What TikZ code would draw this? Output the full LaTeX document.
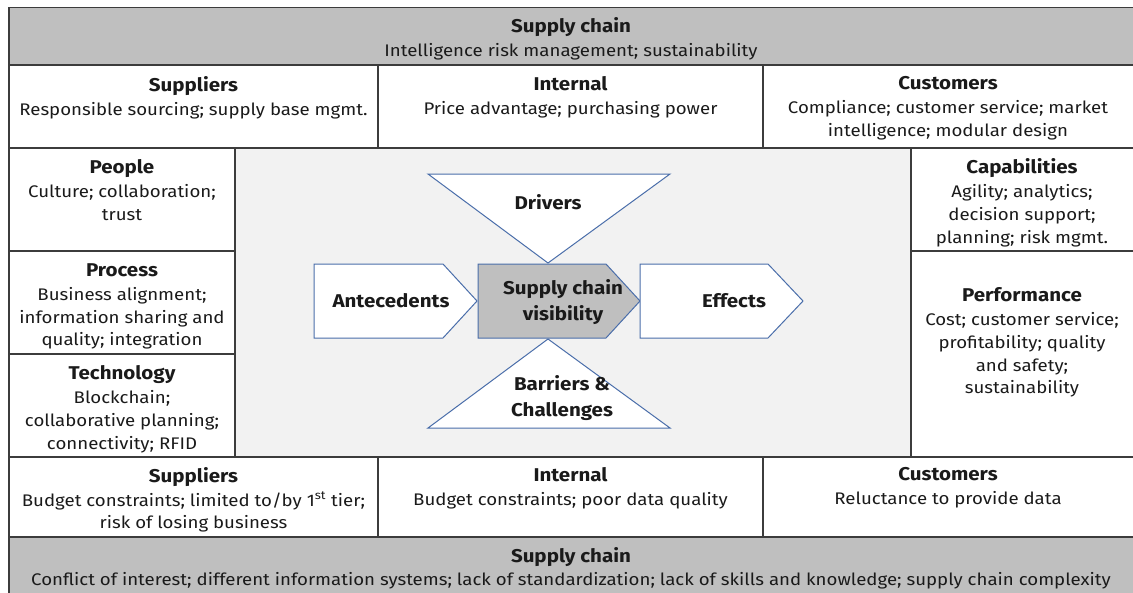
\documentclass[tikz,border=0pt]{standalone}
\usepackage{fontspec}
\setmainfont[FakeStretch=1.11]{Fira Sans}
\definecolor{frame}{HTML}{3C3C3C}
\definecolor{band}{HTML}{BFBFBF}
\definecolor{core}{HTML}{F2F2F2}
\definecolor{edge}{HTML}{4A6EAA}
\definecolor{ink}{HTML}{1A1A1A}
\newcommand\cellhead[1]{{\bfseries\fontsize{18.5}{24}\selectfont #1}}
\begin{document}
\begin{tikzpicture}[x=1pt,y=-1pt,
  grid/.style={draw=frame,line width=1.2pt},
  cell/.style={align=center,inner sep=0pt,anchor=north,text=ink,
    font=\fontsize{16.8}{22.8}\selectfont},
  shapebox/.style={draw=edge,line width=1pt,fill=white,line join=miter},
  mid/.style={align=center,inner sep=0pt,text=ink,
    font=\bfseries\fontsize{18.5}{25.5}\selectfont}]
\useasboundingbox (0,0) rectangle (1133,592);

% backgrounds
\fill[band] (9,7.5) rectangle (1140,65);
\fill[band] (9,537) rectangle (1140,600);
\fill[core] (235,148) rectangle (911,457);

% grid lines
\draw[grid] (1140,7.5) -- (9,7.5) -- (9,600);
\foreach \yy in {65,148,457,537} \draw[grid] (9,\yy) -- (1140,\yy);
\foreach \xx in {378,763} {
  \draw[grid] (\xx,65) -- (\xx,148);
  \draw[grid] (\xx,457) -- (\xx,537);
}
\draw[grid] (235,148) -- (235,457);
\draw[grid] (911,148) -- (911,457);
\draw[grid] (9,251) -- (235,251);
\draw[grid] (9,354) -- (235,354);
\draw[grid] (911,251) -- (1140,251);

% central shapes
\draw[shapebox] (428,174) -- (670,174) -- (548,263) -- cycle;
\draw[shapebox] (548,339) -- (670,428) -- (428,428) -- cycle;
\draw[shapebox] (314,264) -- (443,264) -- (477,301) -- (443,338) -- (314,338) -- cycle;
\draw[shapebox,fill=band] (478,264) -- (606,264) -- (640,301) -- (606,338) -- (478,338) -- cycle;
\draw[shapebox] (640,264) -- (768,264) -- (803,301) -- (768,338) -- (640,338) -- cycle;

\node[mid] (drivers) at (548,202) {Drivers};
\node[mid] (antecedents) at (391,301) {Antecedents};
\node[mid] (scv) at (563,302) {Supply chain\\visibility};
\node[mid] (effects) at (734,301) {Effects};
\node[mid] (barriers) at (562,398) {Barriers \&\\Challenges};

% cell texts
\node[cell] (topband) at (571,17) {\cellhead{Supply chain}\\[1.5pt]Intelligence risk management; sustainability};
\node[cell] (tsup) at (193.5,76) {\cellhead{Suppliers}\\[1.5pt]Responsible sourcing; supply base mgmt.};
\node[cell] (tint) at (570.5,76) {\cellhead{Internal}\\[1.5pt]Price advantage; purchasing power};
\node[cell] (tcus) at (948,76) {\cellhead{Customers}\\[1.5pt]Compliance; customer service; market\\intelligence; modular design};
\node[cell] (people) at (122,159) {\cellhead{People}\\[1.5pt]Culture; collaboration;\\trust};
\node[cell] (process) at (122,263) {\cellhead{Process}\\[1.5pt]Business alignment;\\information sharing and\\quality; integration};
\node[cell] (tech) at (122,365) {\cellhead{Technology}\\[1.5pt]Blockchain;\\collaborative planning;\\connectivity; RFID};
\node[cell] (capab) at (1022,158) {\cellhead{Capabilities}\\[1.5pt]Agility; analytics;\\decision support;\\planning; risk mgmt.};
\node[cell] (perf) at (1022,287) {\cellhead{Performance}\\[1.5pt]Cost; customer service;\\profitability; quality\\and safety;\\sustainability};
\node[cell] (bsup) at (193.5,467) {\cellhead{Suppliers}\\[1pt]Budget constraints; limited to/by 1\textsuperscript{st} tier;\\risk of losing business};
\node[cell] (bint) at (570.5,467) {\cellhead{Internal}\\[1pt]Budget constraints; poor data quality};
\node[cell] (bcus) at (948,467) {\cellhead{Customers}\\[1pt]Reluctance to provide data};
\node[cell] (botband) at (571,547) {\cellhead{Supply chain}\\[0.5pt]Conflict of interest; different information systems; lack of standardization; lack of skills and knowledge; supply chain complexity};
\end{tikzpicture}
\end{document}
